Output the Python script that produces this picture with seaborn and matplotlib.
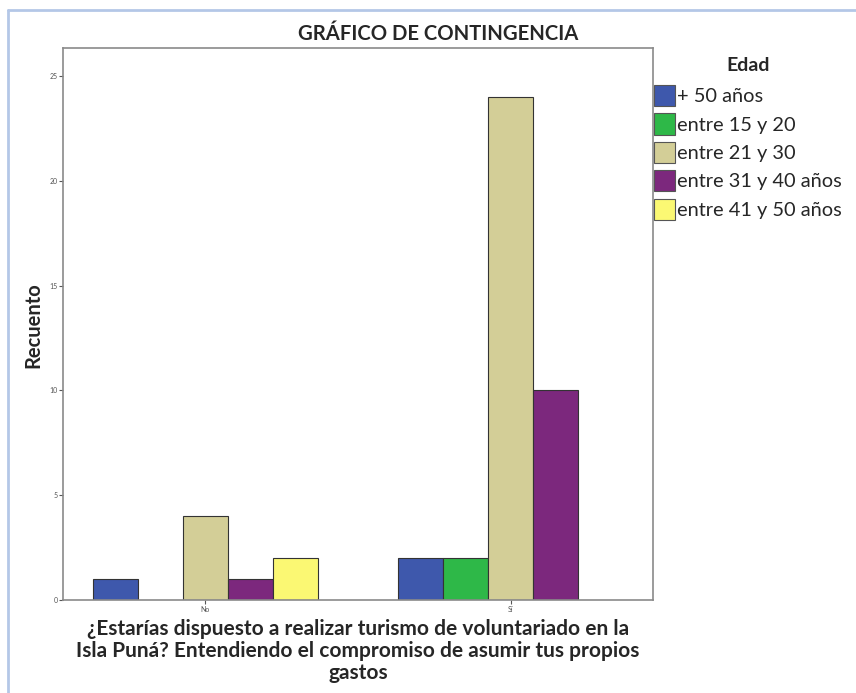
import matplotlib
matplotlib.use("Agg")
import matplotlib.pyplot as plt
import seaborn as sns
import pandas as pd
from matplotlib.patches import Patch

categories = ["No", "Sí"]
age_groups = ["+ 50 años", "entre 15 y 20", "entre 21 y 30", "entre 31 y 40 años", "entre 41 y 50 años"]
counts_no = [1, 0, 4, 1, 2]
counts_si = [2, 2, 24, 10, 0]
colors = ["#3E58AC", "#2EB848", "#D3CE97", "#7C287D", "#FBF873"]
y_ticks = [0, 5, 10, 15, 20, 25]

rows = []
for cat, vals in zip(categories, [counts_no, counts_si]):
    for g, v in zip(age_groups, vals):
        if v > 0:
            rows.append({"resp": cat, "Edad": g, "Recuento": v})
df = pd.DataFrame(rows)

sns.set_style("white")
plt.rcParams['font.family'] = ['Lato', 'DejaVu Sans']

fig = plt.figure(figsize=(8.56, 6.93), dpi=100)
ax = fig.add_axes([63/856, 93/693, 590/856, 552/693])

sns.barplot(data=df, x="resp", y="Recuento", hue="Edad", order=categories,
            hue_order=age_groups, palette=colors, saturation=1, width=0.74, dodge=True,
            edgecolor="#333333", linewidth=0.8, ax=ax, legend=False)

ax.set_xlim(-0.467, 1.467)
ax.set_ylim(0, 26.34)
ax.set_yticks(y_ticks)
ax.set_yticklabels([str(t) for t in y_ticks])
ax.tick_params(axis="both", labelsize=5, colors="#555555", length=3, width=0.8,
               direction="out", left=True, bottom=True, pad=1)
for s in ax.spines.values():
    s.set_color("#8a8a8a")
    s.set_linewidth(1.2)
ax.set_xlabel("")
ax.set_ylabel("")

fig.text(438/856, 1 - 34/693, "GRÁFICO DE CONTINGENCIA", ha="center", va="center",
         fontsize=14.6, fontweight="bold")
fig.text(33/856, 1 - 325/693, "Recuento", rotation=90, ha="center", va="center",
         fontsize=14.5, fontweight="bold")
fig.text(358/856, 1 - 651/693,
         "¿Estarías dispuesto a realizar turismo de voluntariado en la\n"
         "Isla Puná? Entendiendo el compromiso de asumir tus propios\n"
         "gastos", ha="center", va="center", fontsize=15, fontweight="bold",
         linespacing=1.15)

handles = [Patch(facecolor=c, edgecolor="#555555", linewidth=0.8) for c in colors]
leg = fig.legend(handles, age_groups, title="Edad", loc="upper left",
                 bbox_to_anchor=(650/856, 1 - 53/693), frameon=False,
                 fontsize=14.4, title_fontproperties={"weight": "bold", "size": 14},
                 handlelength=1.05, handleheight=1.25, handletextpad=0.12,
                 labelspacing=0.36, borderpad=0.2, borderaxespad=0)
leg._legend_box.sep = 8

# outer light-blue frame (top and left)
fig.add_artist(plt.Line2D([8/856, 1], [1 - 10/693, 1 - 10/693], color="#B4C7E7",
                          linewidth=2, transform=fig.transFigure))
fig.add_artist(plt.Line2D([8/856, 8/856], [0, 1 - 10/693], color="#B4C7E7",
                          linewidth=2, transform=fig.transFigure))

fig.savefig("out.png", dpi=100)
